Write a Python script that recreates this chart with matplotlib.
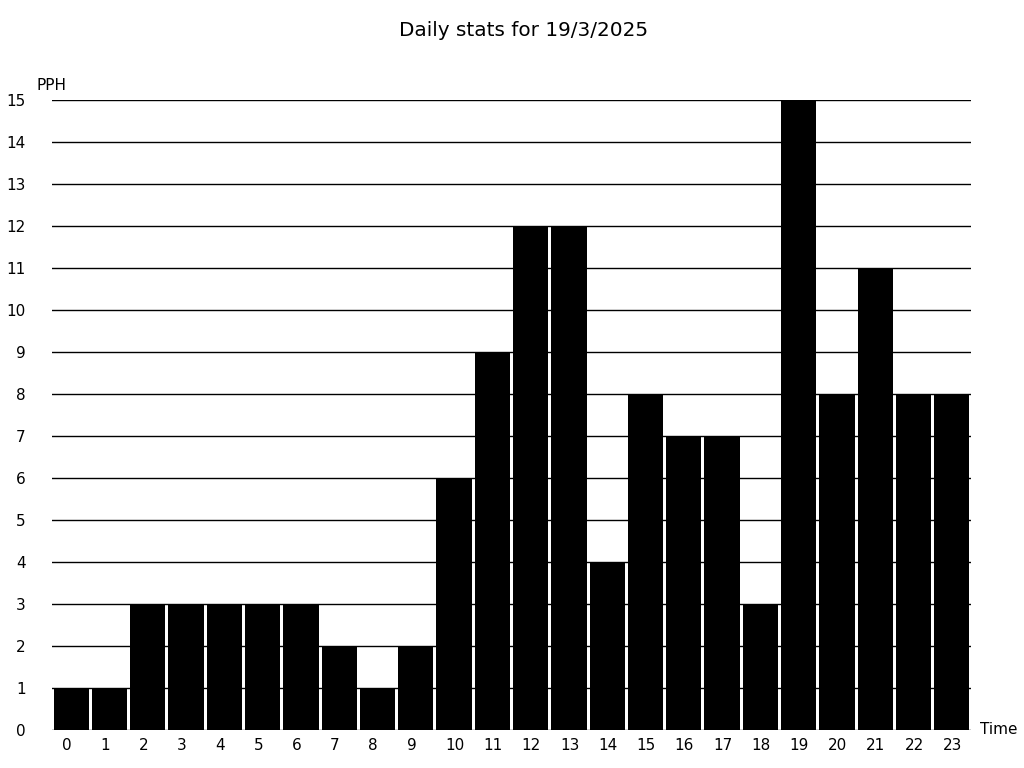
import numpy as np
import matplotlib
matplotlib.use("Agg")
from matplotlib import pyplot as plt
from matplotlib.transforms import ScaledTranslation

# hours of the day and counts per hour
hours = list(range(24))
pph = [1, 1, 3, 3, 3, 3, 3, 2, 1, 2, 6, 9, 12, 12, 4, 8, 7, 7, 3, 15, 8, 11, 8, 8]
yticks = list(range(16))

fig = plt.figure(figsize=(10.24, 7.68), dpi=100)
ax = fig.add_axes([52/1024, 38/768, 919/1024, 630/768])

ax.bar(hours, pph, width=0.92, color="black", linewidth=0, zorder=2)
ax.set_xlim(-0.5, 23.5)
ax.set_ylim(0, 15)
ax.set_yticks(yticks)
ax.set_xticks(hours)
ax.yaxis.grid(True, color="black", linewidth=1, zorder=1)
ax.set_axisbelow(True)
for s in ax.spines.values():
    s.set_visible(False)
ax.tick_params(axis="y", length=0, pad=19, labelsize=11)
ax.tick_params(axis="x", length=0, pad=6, labelsize=11)

# x labels sit left-aligned a bit before the bar centre
shift = ScaledTranslation(-9/100, 0, fig.dpi_scale_trans)
for lab in ax.get_xticklabels():
    lab.set_horizontalalignment("left")
    lab.set_transform(lab.get_transform() + shift)

fig.text(37/1024, 1 - 85/768, "PPH", fontsize=11, va="center", ha="left")
fig.text(980/1024, 1 - 730/768, "Time", fontsize=11, va="center", ha="left")
fig.text(0.5 + 12/1024, 1 - 30/768, "Daily stats for 19/3/2025", fontsize=14.4, ha="center", va="center")

fig.savefig("out.png", dpi=100)
